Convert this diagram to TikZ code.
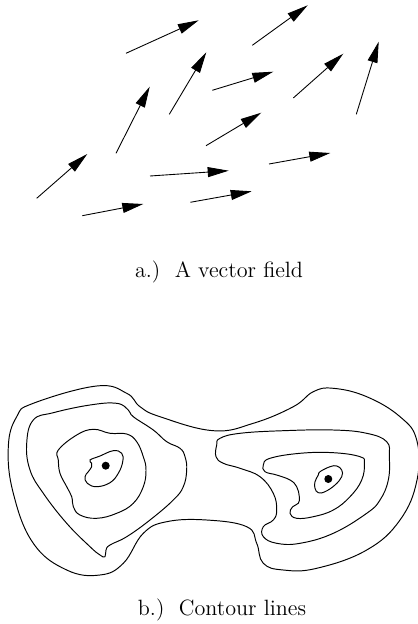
\documentclass[tikz,border=0pt]{standalone}
\usetikzlibrary{arrows.meta}
\tikzset{
  vec/.style={-{Triangle[length=4.2mm,width=2mm]},line width=.5pt},
  level/.style={line width=.55pt},
  peak/.style={circle,fill=black,inner sep=0pt,minimum size=1.6mm},
  caption/.style={font=\fontsize{12.6}{15}\selectfont},
}
\begin{document}
\begin{tikzpicture}[x=0.02cm,y=-0.02cm]
    \useasboundingbox (0,0) rectangle (418,624);

    % a.) vector field
    \foreach \xa/\ya/\xb/\yb in {36.7/198.3/87.3/154, 82.3/215.7/143.3/204,
        116/153.3/149.7/86.7, 126/53.3/198.7/20.3, 150/176/228.7/170.7,
        169.3/114.3/206.3/52.3, 190.3/202.3/251.7/191.3, 206/145.7/261.3/112.7,
        212.3/90.3/273.3/71.7, 252.3/45.3/307.7/5.3, 269/164/330.3/153,
        293.3/98/343.3/53.7, 356.3/114.3/378.7/41.7}
      \draw[vec] (\xa,\ya) -- (\xb,\yb);
    \node[caption] (capa) at (219,272) {a.)~~A vector field};

    % b.) contour lines
    \draw[level] plot[smooth cycle,tension=.7] coordinates {
      (33.3,403.3) (96.7,386) (126.7,393.3) (140,406.7) (160,416.7)
      (213.3,430.7) (253.3,423.3) (293.3,406.7) (313.3,391.7) (333.3,388.3)
      (366.7,396.7) (400,416.7) (416.7,440) (417,480) (400,520)
      (366.7,550) (316.7,568.3) (283.3,570) (263.3,563.3) (256.7,543.3)
      (246.7,526.7) (206.7,520) (166.7,521.7) (143.3,533.3) (123.3,563.3)
      (100,575) (66.7,570) (33.3,543.3) (13.3,493.3) (8.3,446.7) (16.7,416.7)};
    \draw[level] plot[smooth cycle,tension=.7] coordinates {
      (33.3,420) (53.3,412.7) (90,405) (116.7,403.3) (128.3,410) (133.3,416.7)
      (153.3,430) (166.7,441.7) (180,448.3) (185,456.7) (186.7,470)
      (183.3,486.7) (173.3,500) (150,520) (126.7,536.7) (110,545) (106,550)
      (105,556.7) (100,555) (90,546.7) (66.7,523.3) (43.3,493.3) (30,470)
      (26.7,443.3)};
    \draw[level] plot[smooth cycle,tension=.7] coordinates {
      (58.3,450) (76.7,435) (93.3,429.3) (110,433.3) (126.7,434) (136.7,441.7)
      (143.3,456.7) (146,470) (143.3,486.7) (133.3,503.3) (116.7,513.3)
      (96.7,518.3) (80,515) (73.3,506.7) (71.7,496.7) (66.7,486.7) (60,473.3)
      (58.3,460)};
    \draw[level] plot[smooth cycle,tension=.7] coordinates {
      (90,460) (100,456) (113.3,450.7) (121.7,453.3) (122.7,461.7) (118.3,473.3)
      (110,482.7) (96.7,486.7) (87.3,483.3) (85,476.7) (88.3,471.7) (91.7,466.7)
      (91.7,463.3)};
    \node[peak] (topl) at (105.7,465.7) {};

    \draw[level] plot[smooth cycle,tension=.7] coordinates {
      (216.7,445) (220,438.3) (240,433.3) (283.3,430.7) (333.3,430) (366.7,433.3)
      (386.7,441.7) (389.3,456.7) (388.3,480) (380,500) (366.7,513.3)
      (333.3,533.3) (300,543.3) (276.7,543.3) (263.3,536.7) (263.3,526.7)
      (273.3,520) (276.7,510) (273.3,493.3) (260,476.7) (240,468.3)
      (223.3,463.3) (216,456.7)};
    \draw[level] plot[smooth cycle,tension=.7] coordinates {
      (263.3,465) (270,458.3) (300,453.3) (333.3,452.7) (360,456.7) (364.3,463.3)
      (361.7,480) (350,496.7) (333.3,510) (313.3,516.7) (296.7,518.3) (290,513.3)
      (292.7,506.7) (298.3,503.3) (299.3,496.7) (296.7,486.7) (290,480)
      (276.7,475) (265,471.7)};
    \draw[level] plot[smooth cycle,tension=.7] coordinates {
      (320,471.7) (330,466.7) (336.7,466) (341.7,470) (341.7,476.7) (335,485)
      (325,491.7) (318.3,492.7) (315,488.3) (315,481.7) (318.3,475)};
    \node[peak] (topr) at (328.3,479) {};
    \node[caption] (capb) at (222,610) {b.)~~Contour lines};
\end{tikzpicture}
\end{document}
